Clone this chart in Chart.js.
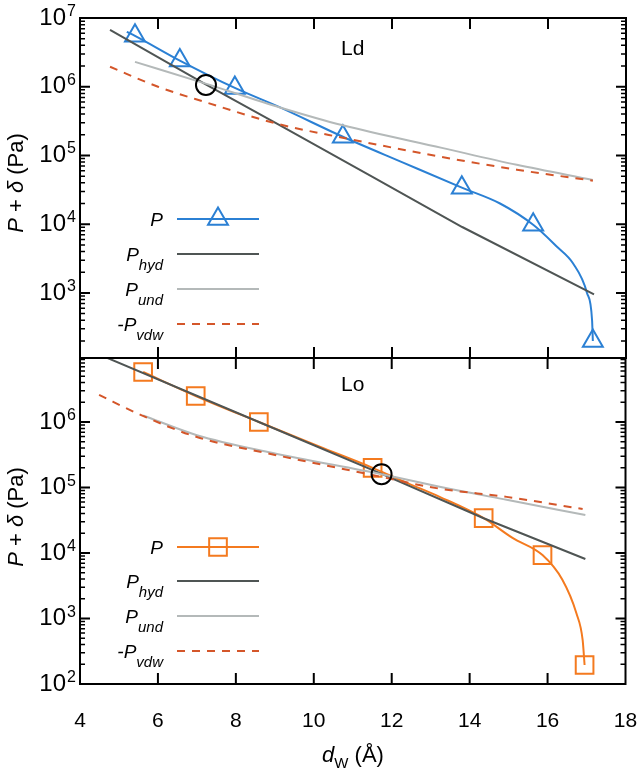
<!DOCTYPE html>
<html>
<head>
<meta charset="utf-8">
<script src="https://cdn.jsdelivr.net/npm/chart.js@4.4.1/dist/chart.umd.min.js"></script>
<style>
  html, body { margin: 0; padding: 0; background: #fff; }
  #wrap { position: relative; width: 640px; height: 772px; }
  #wrap canvas { position: absolute; left: 0; top: 0; }
</style>
</head>
<body>
<div id="wrap">
  <canvas id="ldChart" width="640" height="772"></canvas>
  <canvas id="loChart" width="640" height="772"></canvas>
</div>
<script>
// shared x axis
const xTicks = [4, 6, 8, 10, 12, 14, 16, 18];

// Ld panel (top)
const ldMarkX = [5.41, 6.56, 7.97, 10.74, 13.79, 15.62, 17.15];
const ldMarkY = [5.5e6, 2.4e6, 9.6e5, 1.87e5, 3.4e4, 9.8e3, 2.0e2];
const ldCurveX = [5.2, 5.41, 6.56, 7.97, 9.13, 10.74, 12.3, 13.79, 14.77, 15.62, 16.23, 16.64, 17.0, 17.13, 17.15];
const ldCurveY = [6.3e6, 5.5e6, 2.4e6, 9.6e5, 5.0e5, 1.87e5, 7.8e4, 3.4e4, 2.0e4, 9.8e3, 4.7e3, 2.7e3, 1.0e3, 4.0e2, 2.0e2];
const ldHydX = [4.77, 7.2, 9.13, 11.5, 13.8, 17.18];
const ldHydY = [6.7e6, 1.1e6, 2.75e5, 4.9e4, 9.1e3, 9.5e2];
const ldUndX = [5.41, 7.2, 9.13, 10.74, 13.28, 15.2, 17.15];
const ldUndY = [2.3e6, 1.12e6, 5.0e5, 2.75e5, 1.29e5, 7.3e4, 4.4e4];
const ldVdwX = [4.77, 6.0, 7.2, 9.05, 10.8, 13.28, 15.2, 17.15];
const ldVdwY = [1.95e6, 1.0e6, 6.0e5, 2.9e5, 1.78e5, 9.5e4, 6.2e4, 4.3e4];
const ldCross = { x: 7.23, y: 1.06e6 };

// Lo panel (bottom)
const loMarkX = [5.62, 6.97, 8.59, 11.51, 14.36, 15.87, 16.95];
const loMarkY = [5.8e6, 2.5e6, 1.0e6, 2.0e5, 3.4e4, 9.3e3, 1.95e2];
const loCurveX = [5.62, 6.97, 8.59, 10.15, 11.51, 12.4, 13.23, 14.36, 15.1, 15.87, 16.38, 16.74, 16.9, 16.95];
const loCurveY = [5.8e6, 2.5e6, 1.0e6, 4.2e5, 2.0e5, 1.17e5, 7.2e4, 3.4e4, 1.7e4, 9.3e3, 3.9e3, 1.2e3, 4.7e2, 1.95e2];
const loHydX = [4.5, 8.59, 11.74, 14.36, 16.97];
const loHydY = [1.07e7, 1.0e6, 1.62e5, 3.4e4, 8.1e3];
const loUndX = [5.62, 7.0, 8.92, 11.74, 13.74, 14.95, 16.97];
const loUndY = [1.26e6, 6.3e5, 3.4e5, 1.6e5, 8.9e4, 6.5e4, 3.8e4];
const loVdwX = [4.49, 5.54, 7.0, 8.95, 11.3, 13.23, 14.95, 16.9];
const loVdwY = [2.6e6, 1.3e6, 5.9e5, 3.2e5, 1.65e5, 9.6e4, 7.2e4, 4.7e4];
const loCross = { x: 11.74, y: 1.6e5 };

const FONT = "'Liberation Sans', Arial, Helvetica, sans-serif";
const hydColor = '#4f5554';
const undColor = '#b4b9b9';
const vdwColor = '#d4562a';

const pts = (xs, ys) => xs.map((x, i) => ({ x: x, y: ys[i] }));

function isDecade(v) {
  const e = Math.log10(v);
  return Math.abs(e - Math.round(e)) < 1e-9;
}

function fontOf(p) {
  return (p.it ? 'italic ' : '') + (p.s || 22) + 'px ' + FONT;
}

function drawParts(ctx, x, y, parts, align) {
  let w = 0;
  parts.forEach(p => { ctx.font = fontOf(p); p.w = ctx.measureText(p.t).width; w += p.w; });
  let cx = align === 'right' ? x - w : (align === 'center' ? x - w / 2 : x);
  parts.forEach(p => {
    ctx.font = fontOf(p);
    ctx.fillText(p.t, cx, y + (p.dy || 0));
    cx += p.w;
  });
}

const yTitle = [{ t: 'P', it: true }, { t: ' + ' }, { t: 'δ', it: true }, { t: ' (Pa)' }];
const xTitle = [{ t: 'd', it: true }, { t: 'W', s: 15, dy: 6 }, { t: ' (Å)' }];
const legendText = [
  [{ t: 'P', it: true, s: 19 }],
  [{ t: 'P', it: true, s: 19 }, { t: 'hyd', it: true, s: 15, dy: 9 }],
  [{ t: 'P', it: true, s: 19 }, { t: 'und', it: true, s: 15, dy: 9 }],
  [{ t: '-P', it: true, s: 19 }, { t: 'vdw', it: true, s: 15, dy: 9 }]
];

const panels = {
  ldChart: { name: 'Ld', color: '#2b80d4', marker: 'triangle', markerR: 11.5, legendY: [219, 254, 289, 324], titleY: 183, nameY: 55 },
  loChart: { name: 'Lo', color: '#f47a1f', marker: 'rect', markerR: 12.5, legendY: [547, 581, 616, 651], titleY: 517, nameY: 391 }
};

function drawMarker(ctx, style, cx, cy, r) {
  ctx.beginPath();
  if (style === 'triangle') {
    for (let k = 0; k < 3; k++) {
      const a = k * 2 * Math.PI / 3;
      const px = cx + Math.sin(a) * r, py = cy - Math.cos(a) * r;
      if (k === 0) ctx.moveTo(px, py); else ctx.lineTo(px, py);
    }
    ctx.closePath();
  } else {
    const h = Math.SQRT1_2 * r;
    ctx.rect(cx - h, cy - h, 2 * h, 2 * h);
  }
  ctx.stroke();
}

const decor = {
  id: 'decor',
  afterDatasetsDraw(chart) {
    const p = panels[chart.canvas.id];
    const ctx = chart.ctx;
    const a = chart.chartArea;
    const xs = chart.scales.x, ys = chart.scales.y;
    ctx.save();
    ctx.strokeStyle = '#000';
    ctx.fillStyle = '#000';

    // inward x ticks, top and bottom
    ctx.lineWidth = 2;
    ctx.beginPath();
    xTicks.slice(1, -1).forEach(v => {
      const px = xs.getPixelForValue(v);
      ctx.moveTo(px, a.top); ctx.lineTo(px, a.top + 11);
      ctx.moveTo(px, a.bottom); ctx.lineTo(px, a.bottom - 11);
    });
    ctx.stroke();

    // inward y ticks, left and right, plus the exponent of each decade label
    ys.ticks.forEach(t => {
      const e = Math.floor(Math.log10(t.value) + 1e-9);
      const m = t.value / Math.pow(10, e);
      if (Math.abs(m - Math.round(m)) > 1e-6) return;
      const py = ys.getPixelForValue(t.value);
      const major = Math.round(m) === 1;
      const len = major ? 10 : 5;
      ctx.lineWidth = major ? 2 : 1.5;
      ctx.beginPath();
      ctx.moveTo(a.left, py); ctx.lineTo(a.left + len, py);
      ctx.moveTo(a.right, py); ctx.lineTo(a.right - len, py);
      ctx.stroke();
      if (major) {
        ctx.font = '16px ' + FONT;
        ctx.textAlign = 'left';
        ctx.textBaseline = 'alphabetic';
        ctx.fillText(String(e), a.left - 13, py - 2);
      }
    });

    ctx.lineWidth = 2;
    ctx.strokeRect(a.left, a.top, a.right - a.left, a.bottom - a.top);

    // legend
    const styles = [
      { c: p.color }, { c: hydColor }, { c: undColor }, { c: vdwColor, dash: [8, 7] }
    ];
    p.legendY.forEach((ry, i) => {
      ctx.fillStyle = '#000';
      ctx.textBaseline = 'alphabetic';
      ctx.textAlign = 'left';
      drawParts(ctx, 163, ry + 7, legendText[i], 'right');
      ctx.strokeStyle = styles[i].c;
      ctx.lineWidth = 2;
      ctx.setLineDash(styles[i].dash || []);
      ctx.beginPath();
      ctx.moveTo(177, ry); ctx.lineTo(259, ry);
      ctx.stroke();
      ctx.setLineDash([]);
      if (i === 0) drawMarker(ctx, p.marker, 218, ry, p.markerR);
    });

    // panel name
    ctx.fillStyle = '#000';
    ctx.font = '21px ' + FONT;
    ctx.fillText(p.name, 341, p.nameY);

    // y title
    ctx.save();
    ctx.translate(23, p.titleY);
    ctx.rotate(-Math.PI / 2);
    drawParts(ctx, 0, 0, yTitle, 'center');
    ctx.restore();

    if (chart.canvas.id === 'loChart') {
      drawParts(ctx, 353, 762, xTitle, 'center');
    }
    ctx.restore();
  }
};

function makeChart(id, d) {
  const p = panels[id];
  return new Chart(document.getElementById(id), {
    type: 'line',
    data: {
      datasets: [
        { label: 'P', data: pts(d.curveX, d.curveY), borderColor: p.color, borderWidth: 2, pointRadius: 0, fill: false, cubicInterpolationMode: 'monotone', order: 6 },
        { label: 'P points', data: pts(d.markX, d.markY), showLine: false, pointStyle: p.marker, pointRadius: p.markerR, pointBorderWidth: 2, pointBorderColor: p.color, pointBackgroundColor: 'rgba(0,0,0,0)', order: 5 },
        { label: 'P_hyd', data: pts(d.hydX, d.hydY), borderColor: hydColor, borderWidth: 2, pointRadius: 0, fill: false, order: 4 },
        { label: 'P_und', data: pts(d.undX, d.undY), borderColor: undColor, borderWidth: 2, pointRadius: 0, fill: false, cubicInterpolationMode: 'monotone', order: 3 },
        { label: '-P_vdw', data: pts(d.vdwX, d.vdwY), borderColor: vdwColor, borderWidth: 2, borderDash: [8, 7], pointRadius: 0, fill: false, cubicInterpolationMode: 'monotone', order: 2 },
        { label: 'crossing', data: [d.cross], showLine: false, pointStyle: 'circle', pointRadius: 10, pointBorderWidth: 2, pointBorderColor: '#000', pointBackgroundColor: 'rgba(0,0,0,0)', order: 1 }
      ]
    },
    options: {
      responsive: false,
      animation: false,
      events: [],
      layout: { padding: d.padding },
      plugins: { legend: { display: false }, tooltip: { enabled: false } },
      scales: {
        x: {
          type: 'linear', min: 4, max: 18, display: d.showX,
          ticks: { stepSize: 2, autoSkip: false, color: '#000', font: { family: FONT, size: 21 }, padding: 25 },
          grid: { display: false, drawTicks: false },
          border: { display: false },
          afterFit: s => { s.height = d.showX ? 88 : 0; s.paddingLeft = 0; s.paddingRight = 0; }
        },
        y: {
          type: 'logarithmic', min: d.yMin, max: d.yMax,
          ticks: { autoSkip: false, callback: v => (isDecade(v) ? '10' : ''), color: '#000', font: { family: FONT, size: 24 }, padding: 14 },
          grid: { display: false, drawTicks: false },
          border: { display: false },
          afterFit: s => { s.width = 80; s.paddingTop = 0; s.paddingBottom = 0; }
        }
      }
    },
    plugins: [decor]
  });
}

makeChart('ldChart', {
  curveX: ldCurveX, curveY: ldCurveY, markX: ldMarkX, markY: ldMarkY,
  hydX: ldHydX, hydY: ldHydY, undX: ldUndX, undY: ldUndY, vdwX: ldVdwX, vdwY: ldVdwY,
  cross: ldCross, yMin: 113, yMax: 1e7, showX: false,
  padding: { left: 0, right: 14, top: 18, bottom: 414 }
});

makeChart('loChart', {
  curveX: loCurveX, curveY: loCurveY, markX: loMarkX, markY: loMarkY,
  hydX: loHydX, hydY: loHydY, undX: loUndX, undY: loUndY, vdwX: loVdwX, vdwY: loVdwY,
  cross: loCross, yMin: 100, yMax: 9.5e6, showX: true,
  padding: { left: 0, right: 14, top: 358, bottom: 0 }
});
</script>
</body>
</html>
